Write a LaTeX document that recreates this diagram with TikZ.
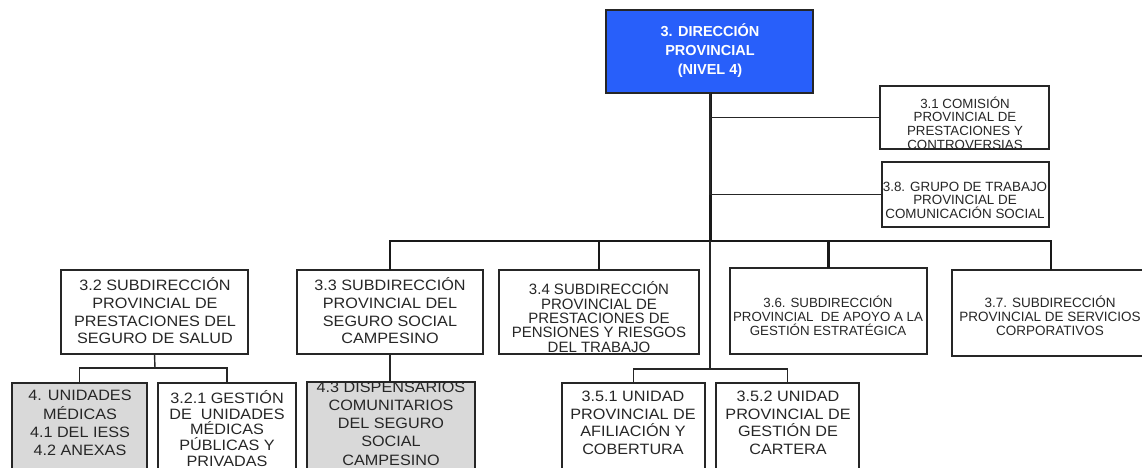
\documentclass[tikz,border=0pt]{standalone}
\usepackage{fontspec}
\setmainfont{Liberation Sans}
\newfontfamily\widefont[FakeStretch=1.08]{Liberation Sans}
\usetikzlibrary{fit}
\definecolor{dirblue}{RGB}{40,95,250}
\definecolor{unitgray}{RGB}{217,217,217}
\tikzset{
  box/.style={draw=black!85, line width=1.3pt, rectangle, inner sep=0pt, outer sep=0pt},
  graybox/.style={box, fill=unitgray},
  txt/.style={align=center, inner sep=0pt, text=black!85},
  bigtxt/.style={txt, font=\widefont\fontsize{15}{17.7}\selectfont},
  smalltxt/.style={txt, font=\fontsize{13.3}{13.6}\selectfont},
  busline/.style={line width=2.5pt, black!90},
  trunkline/.style={line width=3pt, black!90},
  link/.style={line width=1.4pt, black!85},
}
\begin{document}
\begin{tikzpicture}[x=1pt,y=-1pt]
\useasboundingbox (0,0) rectangle (1142,467);
\clip (0,0) rectangle (1142,467);
\fill[white] (0,0) rectangle (1142,467);

% top box
\node[box, fill=dirblue, fit={(606,10) (813,93)}] (dir) {};
\node[txt, text=white, font=\bfseries\fontsize{14.5}{19}\selectfont] (tdir) at (710,51) {3. DIRECCIÓN\\PROVINCIAL\\(NIVEL 4)};

% staff boxes
\node[box, fit={(880,86) (1049,149)}] (n31) {};
\node[smalltxt] (t31) at (965,123) {3.1 COMISIÓN\\PROVINCIAL DE\\PRESTACIONES Y\\CONTROVERSIAS};
\node[box, fit={(882,162) (1049,227)}] (n38) {};
\node[smalltxt, font=\fontsize{13.4}{13.4}\selectfont] (t38) at (965,200) {3.8. GRUPO DE TRABAJO\\PROVINCIAL DE\\COMUNICACIÓN SOCIAL};

% second level
\node[box, fit={(61,270) (248,354)}] (n32) {};
\node[bigtxt] (t32) at (155,311) {3.2 SUBDIRECCIÓN\\PROVINCIAL DE\\PRESTACIONES DEL\\SEGURO DE SALUD};
\node[box, fit={(297,270) (483,354)}] (n33) {};
\node[bigtxt] (t33) at (390,311) {3.3 SUBDIRECCIÓN\\PROVINCIAL DEL\\SEGURO SOCIAL\\CAMPESINO};
\node[box, fit={(499,270) (699,354)}] (n34) {};
\node[txt, font=\fontsize{15}{14.4}\selectfont] (t34) at (599,317) {3.4 SUBDIRECCIÓN\\PROVINCIAL DE\\PRESTACIONES DE\\PENSIONES Y RIESGOS\\DEL TRABAJO};
\node[box, fit={(730,268) (927,354)}] (n36) {};
\node[smalltxt, font=\fontsize{13.3}{14}\selectfont] (t36) at (828,316) {3.6. SUBDIRECCIÓN\\PROVINCIAL\ \ DE APOYO A LA\\GESTIÓN ESTRATÉGICA};
\node[box, fit={(952,270) (1150,356)}] (n37) {};
\node[smalltxt, font=\fontsize{13.5}{14}\selectfont] (t37) at (1050,316) {3.7. SUBDIRECCIÓN\\PROVINCIAL DE SERVICIOS\\CORPORATIVOS};

% third level
\node[graybox, fit={(12,383) (147,475)}] (n4) {};
\node[bigtxt, font=\widefont\fontsize{15}{18.3}\selectfont] (t4) at (80,423) {4. UNIDADES\\MÉDICAS\\4.1 DEL IESS\\4.2 ANEXAS};
\node[box, fit={(158,383) (296,475)}] (n321) {};
\node[bigtxt, font=\widefont\fontsize{15}{15.6}\selectfont] (t321) at (227,428.5) {3.2.1 GESTIÓN\\DE\ \ UNIDADES\\MÉDICAS\\PÚBLICAS Y\\PRIVADAS};
\node[graybox, fit={(307,382) (475,475)}] (n43) {};
\node[bigtxt, font=\widefont\fontsize{15}{18.3}\selectfont] (t43) at (391,423.5) {4.3 DISPENSARIOS\\COMUNITARIOS\\DEL SEGURO\\SOCIAL\\CAMPESINO};
\node[box, fit={(562,383) (705,475)}] (n351) {};
\node[bigtxt, font=\widefont\fontsize{15}{17.5}\selectfont] (t351) at (633,423) {3.5.1 UNIDAD\\PROVINCIAL DE\\AFILIACIÓN Y\\COBERTURA};
\node[box, fit={(716,383) (859,475)}] (n352) {};
\node[bigtxt, font=\widefont\fontsize{15}{17.5}\selectfont] (t352) at (788,423) {3.5.2 UNIDAD\\PROVINCIAL DE\\GESTIÓN DE\\CARTERA};

% connectors
\coordinate (busJ) at (710,241);
\coordinate (j35) at (710,369);
\coordinate (j32) at (155,368);
\draw[trunkline] (dir.south -| busJ) -- (busJ);
\draw[link] (dir.south -| busJ) |- (n31.west);
\draw[link] (dir.south -| busJ) |- (n38.west);
\draw[busline] (n33.north) -- (n33.north |- busJ) -| (n37.north);
\draw[busline] (n34.north) -- (n34.north |- busJ);
\draw[busline] (n36.north) -- (n36.north |- busJ);
\draw[link] (busJ) -- (j35);
\draw[link] (j35) -| (n351.north);
\draw[link] (j35) -| (n352.north);
\draw[link] (n32.south) -- (j32);
\draw[link] (j32) -| (n4.north);
\draw[link] (j32) -| (n321.north);
\draw[link] (n33.south) -- (n43.north -| n33.south);
\end{tikzpicture}
\end{document}
